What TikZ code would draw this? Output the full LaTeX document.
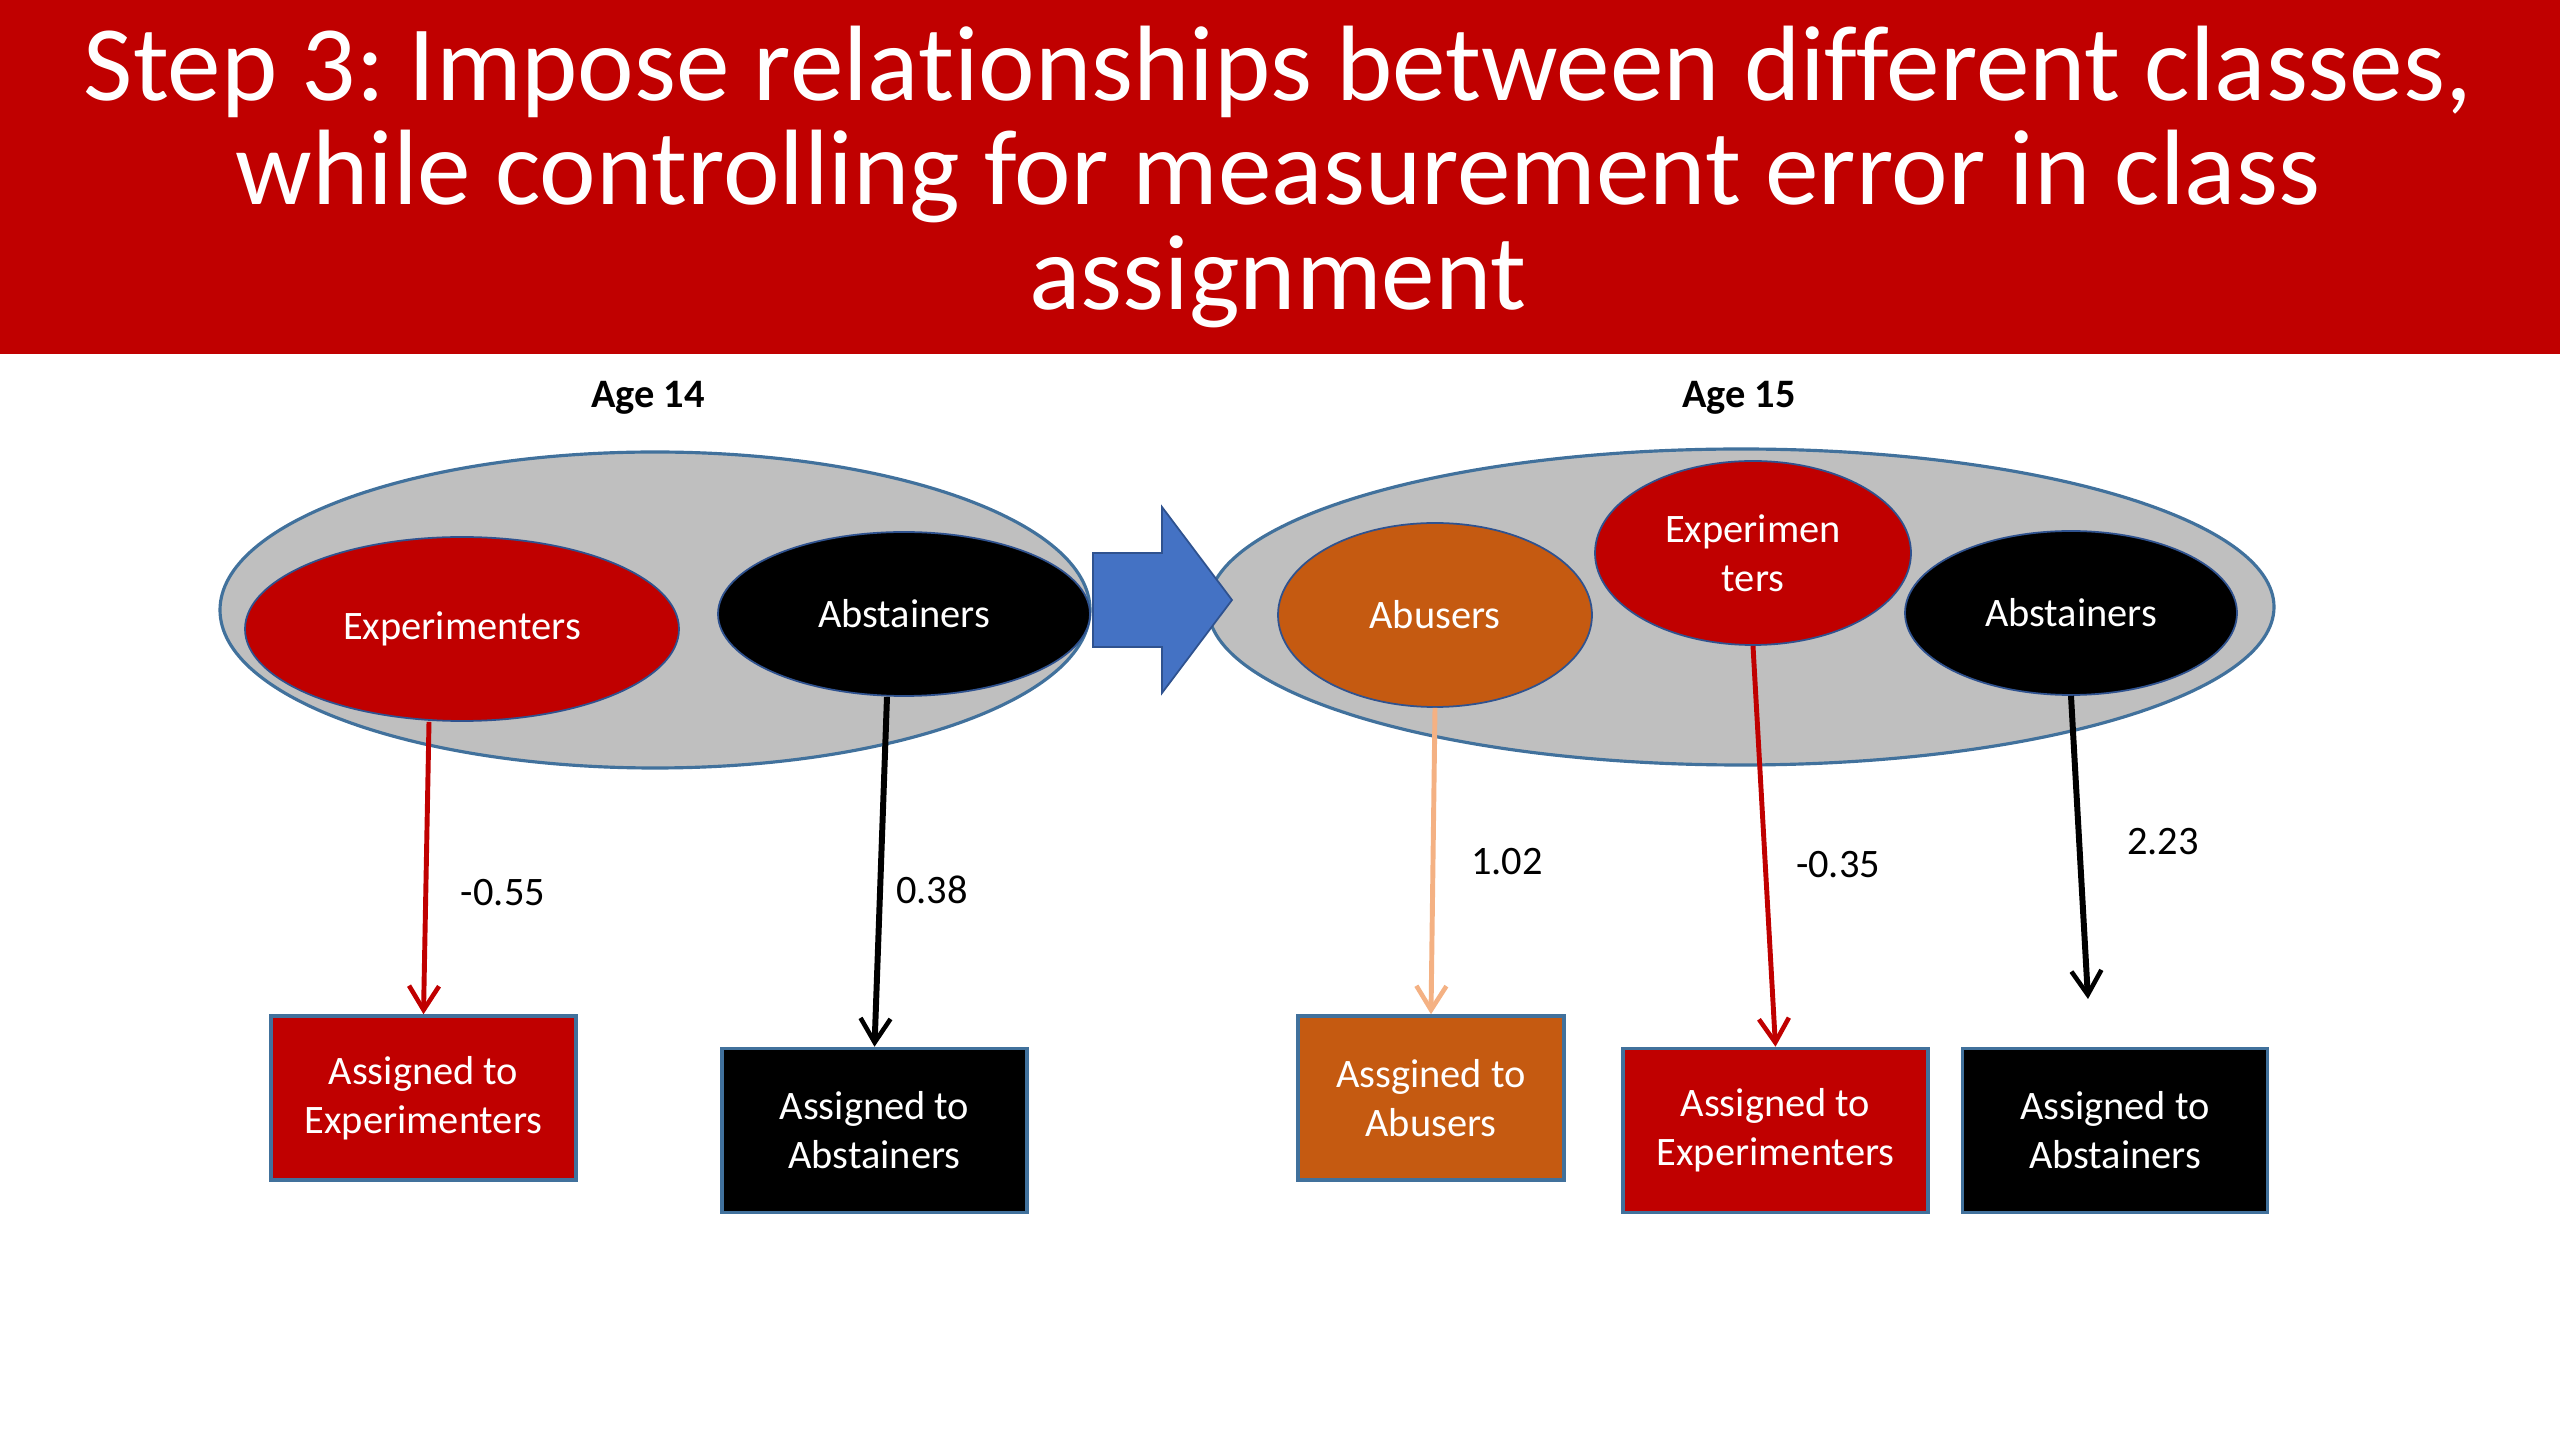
\documentclass[tikz,border=0pt]{standalone}
\usepackage{fontspec}
\setmainfont{Carlito}[Ligatures={NoCommon}]
\usetikzlibrary{shapes.geometric,arrows.meta,calc}
\definecolor{titlered}{HTML}{C00000}
\definecolor{classred}{HTML}{C00000}
\definecolor{classorange}{HTML}{C55A11}
\definecolor{lightorange}{HTML}{F4B183}
\definecolor{grayfill}{HTML}{BFBFBF}
\definecolor{outline}{HTML}{41719C}
\definecolor{darkoutline}{HTML}{2F528F}
\definecolor{bluearrow}{HTML}{4472C4}
\tikzset{
  bigell/.style={ellipse, draw=outline, line width=0.9pt, fill=grayfill, inner sep=0pt},
  classell/.style={ellipse, draw=darkoutline, line width=0.5pt, inner sep=0pt, text=white, align=center,
    font=\fontsize{11.5pt}{13.9pt}\selectfont},
  assignbox/.style={rectangle, draw=outline, line width=1pt, inner sep=0pt, text=white, align=center,
    minimum height=16.4mm, font=\fontsize{11.5pt}{13.9pt}\selectfont},
  numlabel/.style={inner sep=0pt, text=black, font=\fontsize{11.5pt}{13.9pt}\selectfont},
  agelabel/.style={inner sep=0pt, text=black, font=\fontsize{11.5pt}{13.9pt}\selectfont\bfseries},
  conn/.style={-{Straight Barb[length=2.4mm, width=3mm, line width=1.3pt]}}
}
\frenchspacing
\begin{document}
\begin{tikzpicture}[x=0.1mm, y=-0.1mm]
\useasboundingbox (0,0) rectangle (2560,1440);
\fill[white] (0,0) rectangle (2560,1440);
% title band
\fill[titlered] (0,0) rectangle (2560,354);
\node[text=white, align=center, inner sep=0pt, font=\fontsize{30.5pt}{29.7pt}\selectfont] (title) at (1278,177)
  {Step 3: Impose relationships between different classes,\\while controlling for measurement error in class\\assignment};
% age labels
\node[agelabel] (age14) at (648,398) {Age 14};
\node[agelabel] (age15) at (1739,398) {Age 15};
% big ellipses
\node[bigell, minimum width=87mm, minimum height=31.6mm] (bigL) at (655,610) {};
\node[bigell, minimum width=106.6mm, minimum height=31.6mm] (bigR) at (1741,607) {};
% class ellipses
\node[classell, fill=classred, minimum width=43.4mm, minimum height=18.4mm] (expL) at (462,629) {Experimenters};
\node[classell, fill=black, minimum width=37.2mm, minimum height=16.4mm] (absL) at (904,614) {Abstainers};
\node[classell, fill=classorange, minimum width=31.4mm, minimum height=18.4mm] (abuR) at (1435,615) {Abusers};
\node[classell, fill=classred, minimum width=31.6mm, minimum height=18.4mm] (expR) at (1753,553) {Experimen\\ters};
\node[classell, fill=black, minimum width=33.2mm, minimum height=16.4mm] (absR) at (2071,613) {Abstainers};
% blue block arrow
\filldraw[fill=bluearrow, draw=darkoutline, line width=0.5pt]
  (1093,553) -- (1162,553) -- (1162,507) -- (1232,600) -- (1162,693) -- (1162,647) -- (1093,647) -- cycle;
% boxes
\node[assignbox, fill=classred, minimum width=30.5mm] (b1) at (423.5,1098) {Assigned to\\Experimenters};
\node[assignbox, fill=black, minimum width=30.5mm] (b2) at (874.5,1130.5) {Assigned to\\Abstainers};
\node[assignbox, fill=classorange, minimum width=26.6mm] (b3) at (1431,1098) {Assgined to\\Abusers};
\node[assignbox, fill=classred, minimum width=30.5mm] (b4) at (1775.5,1130.5) {Assigned to\\Experimenters};
\node[assignbox, fill=black, minimum width=30.5mm] (b5) at (2115,1130.5) {Assigned to\\Abstainers};
\coordinate (end5) at (2088,999);
% connectors
\draw[conn, draw=classred, line width=1.4pt] ([xshift=-3.3mm]expL.south) -- (b1.north);
\draw[conn, draw=black, line width=1.7pt] ([xshift=-1.7mm]absL.south) -- (b2.north);
\draw[conn, draw=lightorange, line width=1.4pt] (abuR.south) -- (b3.north);
\draw[conn, draw=classred, line width=1.4pt] (expR.south) -- (b4.north);
\draw[conn, draw=black, line width=1.7pt] (absR.south) -- (end5);
% coefficient labels
\node[numlabel] (c1) at (503,893) {-0.55};
\node[numlabel] (c2) at (932,890) {0.38};
\node[numlabel] (c3) at (1507,862) {1.02};
\node[numlabel] (c4) at (1838,865) {-0.35};
\node[numlabel] (c5) at (2163,842) {2.23};
\end{tikzpicture}
\end{document}
